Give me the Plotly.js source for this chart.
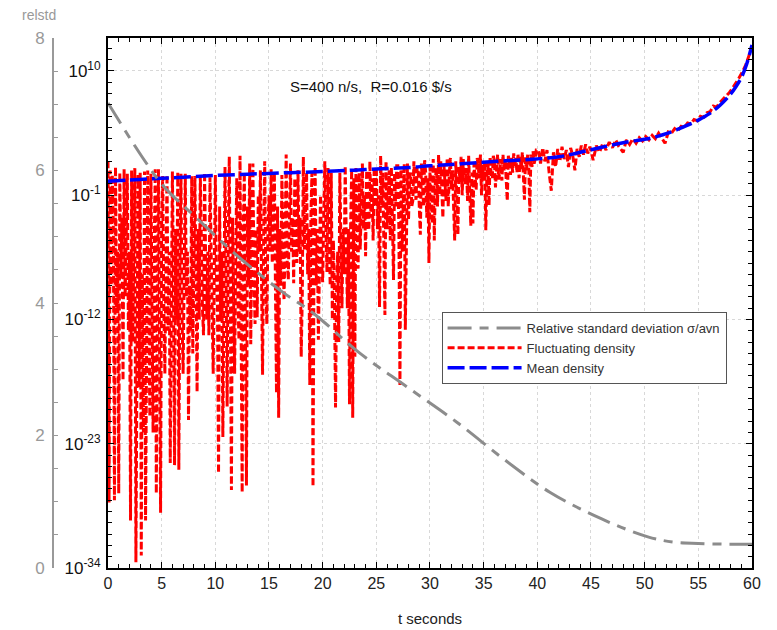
<!DOCTYPE html>
<html>
<head>
<meta charset="utf-8">
<script src="https://cdn.plot.ly/plotly-3.0.1.min.js"></script>
<style>html,body{margin:0;padding:0;background:#fff;}</style>
</head>
<body>
<div id="chart" style="width:777px;height:630px;"></div>
<script>
// Relative standard deviation (linear outer axis, 0..8)
const tRelstd = [0, 3.2, 5.2, 8.4, 12, 16.3, 19.1, 23.4, 27.8, 32.5, 36.9, 41.2, 46, 50.3, 52.7, 55, 57.5, 60];
const relstd  = [7.02, 6.2, 5.76, 5.26, 4.72, 4.16, 3.85, 3.25, 2.74, 2.2, 1.64, 1.14, 0.74, 0.47, 0.39, 0.37, 0.36, 0.36];

// Mean density, log10 values
const tMean   = [0, 2, 4, 6, 8, 10, 12, 14, 16, 18, 20, 22, 24, 26, 28, 30, 32, 34, 36, 38, 40, 42, 44, 46, 48, 50, 51, 52, 53, 54, 55, 56, 57, 58, 58.5, 59, 59.5, 60];
const logMean = [0.24, 0.35, 0.45, 0.55, 0.65, 0.75, 0.83, 0.9, 0.97, 1.03, 1.1, 1.18, 1.27, 1.36, 1.45, 1.6, 1.72, 1.85, 1.98, 2.1, 2.22, 2.4, 2.8, 3.25, 3.65, 3.95, 4.15, 4.45, 4.8, 5.2, 5.65, 6.2, 6.95, 7.95, 8.6, 9.4, 10.6, 12.3];

// Fluctuating density, log10 values (one line per time span)
const tFluct = [
  0.0,0.1,0.2,0.3,0.4,0.5,0.6,0.7,0.8,0.9,
  1.0,1.1,1.2,1.3,1.4,1.5,1.6,1.7,1.8,1.9,
  2.0,2.1,2.2,2.3,2.4,2.5,2.6,2.7,2.8,2.9,
  3.0,3.1,3.2,3.3,3.4,3.5,3.6,3.7,3.8,3.9,
  4.0,4.1,4.2,4.3,4.4,4.5,4.6,4.7,4.8,4.9,
  5.0,5.1,5.2,5.3,5.4,5.5,5.6,5.7,5.8,5.9,
  6.0,6.1,6.2,6.3,6.4,6.5,6.6,6.7,6.8,6.9,
  7.0,7.1,7.2,7.3,7.4,7.5,7.6,7.7,7.8,7.9,
  8.0,8.1,8.2,8.3,8.4,8.5,8.6,8.7,8.8,8.9,
  9.0,9.1,9.2,9.3,9.4,9.5,9.6,9.7,9.8,9.9,
  10.0,10.1,10.2,10.3,10.4,10.5,10.6,10.7,10.8,10.9,
  11.0,11.1,11.2,11.3,11.4,11.5,11.6,11.7,11.8,11.9,
  12.0,12.1,12.2,12.3,12.4,12.5,12.6,12.7,12.8,12.9,
  13.0,13.1,13.2,13.3,13.4,13.5,13.6,13.7,13.8,13.9,
  14.0,14.1,14.2,14.3,14.4,14.5,14.6,14.7,14.8,14.9,
  15.0,15.1,15.2,15.3,15.4,15.5,15.6,15.7,15.8,15.9,
  16.0,16.1,16.2,16.3,16.4,16.5,16.6,16.7,16.8,16.9,
  17.0,17.1,17.2,17.3,17.4,17.5,17.6,17.7,17.8,17.9,
  18.0,18.1,18.2,18.3,18.4,18.5,18.6,18.7,18.8,18.9,
  19.0,19.1,19.2,19.3,19.4,19.5,19.6,19.7,19.8,19.9,
  20.0,20.1,20.2,20.3,20.4,20.5,20.6,20.7,20.8,20.9,
  21.0,21.1,21.2,21.3,21.4,21.5,21.6,21.7,21.8,21.9,
  22.0,22.1,22.2,22.3,22.4,22.5,22.6,22.7,22.8,22.9,
  23.0,23.1,23.2,23.3,23.4,23.5,23.6,23.7,23.8,23.9,
  24.0,24.1,24.2,24.3,24.4,24.5,24.6,24.7,24.8,24.9,
  25.0,25.1,25.2,25.3,25.4,25.5,25.6,25.7,25.8,25.9,
  26.0,26.1,26.2,26.3,26.4,26.5,26.6,26.7,26.8,26.9,
  27.0,27.1,27.2,27.3,27.4,27.5,27.6,27.7,27.8,27.9,
  28.0,28.1,28.2,28.3,28.4,28.5,28.6,28.7,28.8,28.9,
  29.0,29.1,29.2,29.3,29.4,29.5,29.6,29.7,29.8,29.9,
  30.0,30.1,30.2,30.3,30.4,30.5,30.6,30.7,30.8,30.9,
  31.0,31.1,31.2,31.3,31.4,31.5,31.6,31.7,31.8,31.9,
  32.0,32.1,32.2,32.3,32.4,32.5,32.6,32.7,32.8,32.9,
  33.0,33.1,33.2,33.3,33.4,33.5,33.6,33.7,33.8,33.9,
  34.0,34.1,34.2,34.3,34.4,34.5,34.6,34.7,34.8,34.9,
  35.0,35.1,35.2,35.3,35.4,35.5,35.6,35.7,35.8,35.9,
  36.0,36.1,36.2,36.3,36.4,36.5,36.6,36.7,36.8,36.9,
  37.0,37.1,37.2,37.3,37.4,37.5,37.6,37.7,37.8,37.9,
  38.0,38.1,38.2,38.3,38.4,38.5,38.6,38.7,38.8,38.9,
  39.0,39.1,39.2,39.3,39.4,39.5,39.6,39.7,39.8,39.9,
  40.1,40.3,40.5,40.7,40.9,41.1,41.3,41.5,41.7,41.9,42.1,42.3,42.5,42.7,42.9,43.1,43.3,43.5,43.7,43.9,44.1,44.3,44.5,44.7,44.9,
  45.2,45.5,45.8,46.1,46.4,46.7,47.0,47.3,47.6,48.0,48.3,48.6,48.9,49.2,49.5,49.8,
  50.1,50.4,50.7,51.0,51.3,51.6,51.9,52.2,52.5,52.8,53.1,53.4,53.7,54.0,54.3,54.6,54.9,55.2,55.5,55.8,56.1,56.4,56.7,57.0,57.3,57.6,57.9,58.2,58.5,58.8,59.1,59.4,59.7,60.0
];
const logFluct = [
  2.0,-28.2,1.2,-9,0.8,-4,-28.0,1.5,-11,-6,
  -27.4,1.0,-8,-3,-17.4,1.3,-10,-4,0.9,-13,
  -6,-29.8,1.2,-14,-5,1.4,-33.5,-9,0.8,-18,
  1.0,-32.9,-8,-22,1.1,-29.8,-10,1.2,-12,-20.6,
  0.9,-9,-22,-6,1.3,-27.4,-11,1.3,-14,-29.1,
  -3,0.7,-11,-16.8,-7,0.8,-13,-6,-24.7,-9,
  1.1,-9,-24.9,-4,-12,1.0,-25.3,-7,0.9,-12,
  -16.8,-8,0.9,-10,-6,-20.9,-9,-13,0.7,-15,
  -6,0.7,-9,-18.4,-4,-12,0.8,-7,-11,-13.4,
  1.0,-7,-12,-6,-13.4,0.6,-5,-10,-16.8,-8,
  0.8,-8,-11,-25.6,-2,-12,-6,-22.4,-9,1.5,
  -8,-19.7,-5,2.4,-11,-27.1,-3,-9,-16.8,-6,
  0.5,-10,-13.8,2.5,-9,-27.3,-4,1.0,-12,-26.7,
  -2,-9,1.8,-14.2,-5,1.8,-8,-12.4,-4,-11.8,
  -1,-6,1.2,-9,-16.9,-5,2.0,-9,-12.4,-4,
  -1,-6,1.3,-7,-4,1.0,-9,-18.5,-2,-20.7,
  -4,-9,0.8,-6,-10.3,-5,2.6,-7,-8.5,-3,
  1.8,-6,-3,-8.8,0.5,-5,-7,1.2,-6,-3,
  -15.3,-10,2.4,-5.8,-2,1.0,-8,-4,-17.8,-3,
  1.0,-26.8,-5,1.5,-9,-4,-13.8,-6,-1,-7,
  -8.7,-3,2.0,-4,-7.8,1.4,-6,-9,1.0,-12,
  -5,-10,-19.8,-9,-6,-14,1.0,-6,-11,-4,
  -8,1.6,-6,-11,-4,-19.5,-4,1.2,-20.7,0.5,
  -15.3,1.4,-4,-7.5,1.0,-5.8,-2,1.8,-4,-1,
  -6.4,1.2,-3,-4.1,2.0,-3,0.5,-5,1.5,-2,
  1.5,-4,-1,-10.9,2.5,-2,1.0,-5,-11.6,2.0,
  -4,-1,1.2,-5,1.5,-3,-8.5,1.0,-2,1.6,
  1.6,-4,-17.8,1.3,-6,-2,1.8,-12.9,-3,1.8,
  -3.2,0.5,1.0,-2,-1.5,2.0,-0.5,-1.4,1.5,1.2,
  -2,-4.5,1.8,-1,-2,2.1,1.0,-3,0.5,-7,
  1.5,-1,-3.5,2.2,-5.0,0.5,1.4,-2,2.6,-1,
  2.0,-0.5,-3.0,1.6,0.2,-1.5,2.3,-2,1.0,2.3,
  -0.5,1.2,-2,-5.0,2.0,-1,-4.5,1.5,0.2,2.4,
  -1,2.2,0.5,0,1.4,-1.5,2.5,-0.5,-3.7,1.0,
  -3.5,1.8,0.3,-0.5,2.3,1.0,0.5,2.6,-1,1.7,
  0.5,2.0,-4.1,1.0,2.0,-1.9,2.4,0.8,0.5,2.5,
  2.0,-0.3,1.5,2.6,0.4,1.0,2.2,0.3,2.6,1.2,
  2.2,0.3,-1.5,2.5,1.4,0.8,2.3,1.0,2.7,1.6,
  2.3,1.0,2.7,0.5,2.4,1.2,2.8,0.5,-1.4,2.4,
  1.2,2.6,1.6,-2.5,2.6,1.5,2.9,1.8,2.2,3.0,
  3.0,1.8,3.2,2.0,3.0,1.0,-0.6,2.8,1.5,3.1,2.0,3.3,2.2,3.0,1.5,3.2,2.5,1.2,3.1,2.4,3.4,2.6,3.5,2.7,3.3,
  2.1,3.4,2.8,3.6,3.0,3.7,3.2,3.9,3.3,2.8,3.9,3.5,4.0,3.6,4.1,3.8,
  4.2,3.9,4.3,4.0,4.5,4.1,3.6,4.6,4.5,4.9,4.7,5.1,5.0,5.4,5.3,5.7,5.6,6.0,5.9,6.3,6.4,6.9,6.8,7.2,7.5,7.8,8.1,8.5,8.9,9.4,9.9,10.5,11.3,12.1
];

// Tick labels
const logTickExps = [-34, -23, -12, -1, 10];
const relstdTicks = [0, 2, 4, 6, 8];
const xTicks = [0, 5, 10, 15, 20, 25, 30, 35, 40, 45, 50, 55, 60];

const pow10 = a => a.map(v => Math.pow(10, v));
const minorLog = [];
for (let e = -34; e <= 12; e++) minorLog.push(Math.pow(10, e));

const FONT = 'Liberation Sans, Arial, sans-serif';

const traces = [
  {
    x: tFluct, y: pow10(logFluct), type: 'scatter', mode: 'lines',
    name: 'Fluctuating density', legendrank: 2,
    line: {color: '#ff0000', width: 3, dash: '7px,3px'},
    xaxis: 'x', yaxis: 'y'
  },
  {
    x: tMean, y: pow10(logMean), type: 'scatter', mode: 'lines',
    name: 'Mean density', legendrank: 3,
    line: {color: '#0000ff', width: 3.5, dash: '17px,5px', shape: 'spline'},
    xaxis: 'x', yaxis: 'y'
  },
  {
    x: tRelstd, y: relstd, type: 'scatter', mode: 'lines',
    name: 'Relative standard deviation σ/avn', legendrank: 1,
    line: {color: '#8c8c8c', width: 3, dash: '24px,8px,9px,8px', shape: 'spline'},
    xaxis: 'x', yaxis: 'y2'
  }
];

const layout = {
  width: 777, height: 630,
  margin: {l: 40, r: 25, t: 38, b: 62},
  paper_bgcolor: '#fff', plot_bgcolor: '#fff',
  font: {family: FONT, color: '#222', size: 15},
  showlegend: true,
  legend: {
    x: 0.564, y: 0.483, xanchor: 'left', yanchor: 'top',
    bgcolor: '#fff', bordercolor: '#555', borderwidth: 1,
    font: {family: FONT, size: 13, color: '#333'},
    itemwidth: 74, tracegroupgap: 0
  },
  xaxis: {
    domain: [0.0955, 1],
    range: [0, 60], tickvals: xTicks,
    ticks: 'inside', ticklen: 6, tickwidth: 1, tickcolor: '#000',
    showline: true, linecolor: '#000', linewidth: 2, mirror: 'ticks',
    showgrid: true, gridcolor: '#d8d8d8', griddash: '3px,3px', gridwidth: 1,
    zeroline: false,
    tickfont: {family: FONT, size: 16, color: '#222'},
    minor: {dtick: 1, ticks: 'inside', ticklen: 4, tickcolor: '#000', showgrid: false},
    title: {text: 't seconds', font: {family: FONT, size: 15, color: '#222'}, standoff: 22}
  },
  yaxis: {
    type: 'log', range: [-34, 12.92],
    tickvals: pow10(logTickExps),
    ticktext: logTickExps.map(e => '10<sup>' + e + '</sup>'),
    ticks: 'inside', ticklen: 6, tickcolor: '#000',
    showline: true, linecolor: '#000', linewidth: 2, mirror: 'ticks',
    showgrid: true, gridcolor: '#d8d8d8', griddash: '3px,3px', gridwidth: 1,
    zeroline: false,
    tickfont: {family: FONT, size: 17, color: '#111'},
    ticklabelstandoff: 2,
    minor: {tickvals: minorLog, ticks: 'inside', ticklen: 4, tickcolor: '#000', showgrid: false}
  },
  yaxis2: {
    overlaying: 'y', side: 'left', anchor: 'free', position: 0.0169,
    range: [0, 8], tickvals: relstdTicks,
    ticks: 'inside', ticklen: 4, tickcolor: '#999',
    showline: true, linecolor: '#999', linewidth: 1.5,
    showgrid: false, zeroline: false,
    tickfont: {family: FONT, size: 17, color: '#999'},
    ticklabelstandoff: 4,
    minor: {dtick: 0.5, ticks: 'inside', ticklen: 4, tickcolor: '#999', showgrid: false}
  },
  annotations: [
    {text: 'relstd', xref: 'paper', yref: 'paper', x: -0.0015, y: 1.043,
     xanchor: 'center', yanchor: 'middle', showarrow: false,
     font: {family: FONT, size: 14, color: '#999'}},
    {text: 'S=400 n/s,  R=0.016 $/s', xref: 'paper', yref: 'paper', x: 0.465, y: 0.908,
     xanchor: 'center', yanchor: 'middle', showarrow: false,
     font: {family: FONT, size: 15, color: '#111'}}
  ]
};

Plotly.newPlot('chart', traces, layout, {displayModeBar: false, staticPlot: true});
</script>
</body>
</html>
